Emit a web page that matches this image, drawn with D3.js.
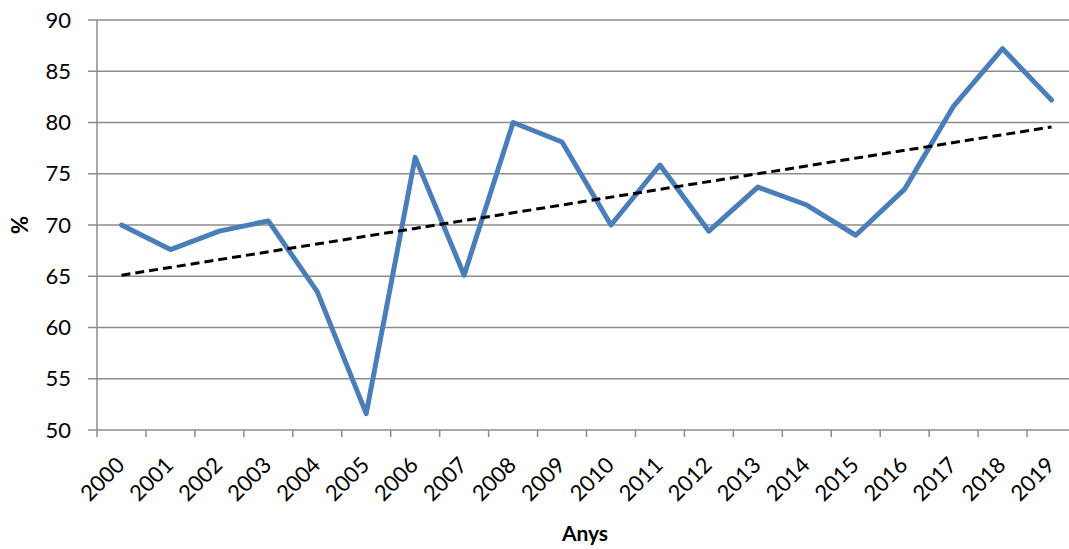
<!DOCTYPE html>
<html><head><meta charset="utf-8">
<script src="https://cdn.jsdelivr.net/npm/d3@7"></script>
<style>body{margin:0;background:#fff}svg{display:block}text{font-family:Lato,"Open Sans",sans-serif}</style>
</head><body><svg id="c" width="1069" height="549"></svg>
<script>
const years = ["2000","2001","2002","2003","2004","2005","2006","2007","2008","2009","2010","2011","2012","2013","2014","2015","2016","2017","2018","2019"];
const values = [70.0,67.6,69.4,70.4,63.5,51.6,76.6,65.1,80.0,78.1,70.0,75.85,69.4,73.7,71.95,69.0,73.5,81.6,87.2,82.2];
const yTicks = [50,55,60,65,70,75,80,85,90];

const svg = d3.select("#c");
const L = 97, R = 1076, T = 20, B = 430;
const x = d3.scaleBand().domain(years).range([L, R]);
const y = d3.scaleLinear().domain([50, 90]).range([B, T]);
const grid = "#8c8c8c";

// gridlines
svg.append("g").selectAll("line").data(yTicks).join("line")
  .attr("x1", L - 9).attr("x2", 1069).attr("y1", d => y(d)).attr("y2", d => y(d))
  .attr("stroke", grid).attr("stroke-width", 1.5);

// y axis
const ya = svg.append("g").attr("transform", `translate(${L},0)`)
  .call(d3.axisLeft(y).tickValues(yTicks).tickSize(0).tickPadding(26));
ya.select(".domain").remove();
ya.selectAll("text").attr("font-size", 22).attr("fill", "#000").attr("font-family", "Lato,'Open Sans',sans-serif");
svg.append("line").attr("x1", L).attr("x2", L).attr("y1", T).attr("y2", B + 7).attr("stroke", grid).attr("stroke-width", 1.5);

// x axis ticks (category boundaries)
const bounds = years.map(d => x(d));
svg.append("g").selectAll("line").data(bounds.slice(1)).join("line")
  .attr("x1", d => d).attr("x2", d => d).attr("y1", B).attr("y2", B + 7)
  .attr("stroke", grid).attr("stroke-width", 1.5);

// x labels
svg.append("g").selectAll("text").data(years).join("text")
  .attr("transform", d => `translate(${x(d) + x.bandwidth()/2 - 1},${B + 31}) rotate(-45)`)
  .attr("text-anchor", "end").attr("dy", "0.35em").attr("font-size", 22).attr("fill", "#000")
  .text(d => d);

// data line
const cx = d => x(d) + x.bandwidth()/2;
svg.append("path").datum(values)
  .attr("d", d3.line().x((d,i) => cx(years[i])).y(d => y(d)))
  .attr("fill", "none").attr("stroke", "#4a7ebb").attr("stroke-width", 5)
  .attr("stroke-linejoin", "round").attr("stroke-linecap", "round");

// linear trendline (least squares of the series)
const n = values.length;
const mx = d3.mean(values, (d,i) => i), my = d3.mean(values);
const slope = d3.sum(values, (d,i) => (i - mx) * (d - my)) / d3.sum(values, (d,i) => (i - mx) ** 2);
const trend = values.map((d,i) => my + slope * (i - mx));
svg.append("path").datum([trend[0], trend[n-1]])
  .attr("d", d3.line().x((d,i) => cx(years[i === 0 ? 0 : n-1])).y(d => y(d)))
  .attr("fill", "none").attr("stroke", "#000").attr("stroke-width", 3)
  .attr("stroke-dasharray", "9,5");

// axis titles
svg.append("text").attr("transform", `translate(28,${(T+B)/2}) rotate(-90)`)
  .attr("text-anchor", "middle").attr("font-size", 22).attr("font-weight", "bold").text("%");
svg.append("text").attr("x", 585).attr("y", 541)
  .attr("text-anchor", "middle").attr("font-size", 21).attr("font-weight", "bold").text("Anys");
</script></body></html>
